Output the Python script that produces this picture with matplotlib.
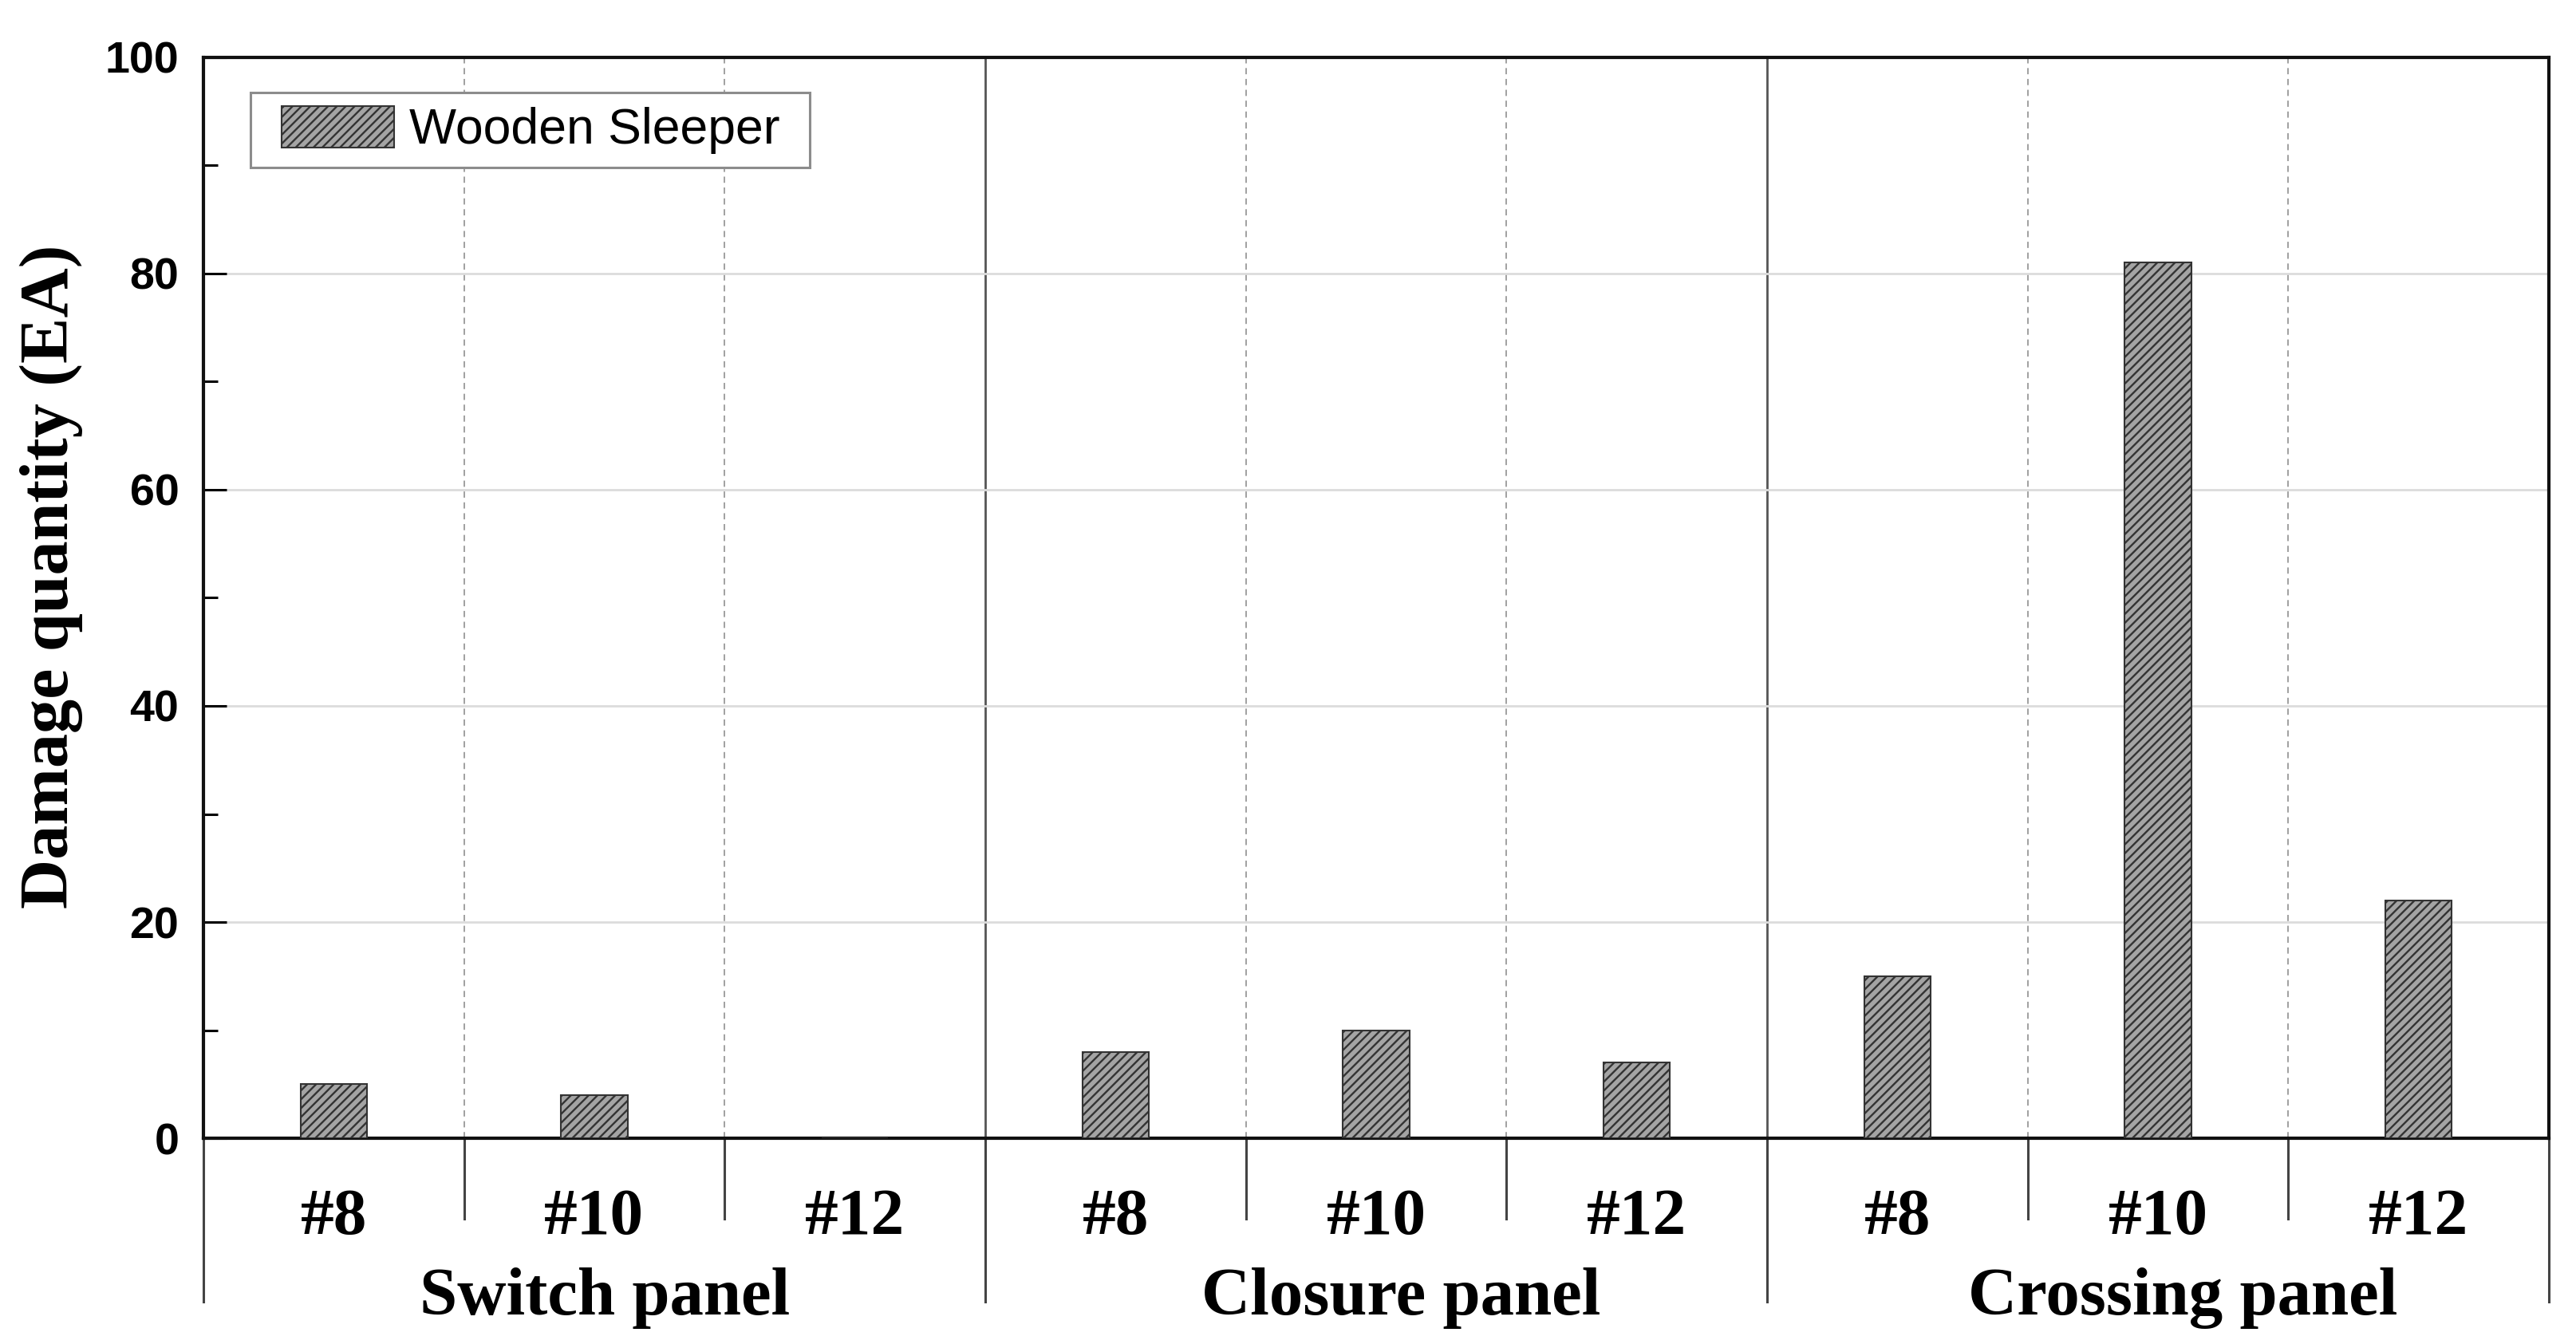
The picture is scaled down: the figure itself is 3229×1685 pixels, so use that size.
#!/usr/bin/env python3
# -*- coding: utf-8 -*-
"""Damage quantity of wooden sleepers per turnout panel and turnout number."""
import numpy as np
import matplotlib
matplotlib.use("Agg")
import matplotlib.pyplot as plt
from matplotlib.patches import Rectangle
from matplotlib.ticker import MultipleLocator
from matplotlib.transforms import blended_transform_factory

panels = ["Switch panel", "Closure panel", "Crossing panel"]
turnouts = ["#8", "#10", "#12"]
wooden_sleeper = [5, 4, 0, 8, 10, 7, 15, 81, 22]

SERIF = ["Liberation Serif", "DejaVu Serif"]
SANS = ["Liberation Sans", "DejaVu Sans"]
plt.rcParams["hatch.linewidth"] = 1.7

fig = plt.figure(figsize=(32.3, 16.85), dpi=100)
ax = fig.add_axes([0.0789, 0.1531, 0.9103, 0.8042])

n = len(panels) * len(turnouts)
x = np.arange(n)
ax.bar(x, wooden_sleeper, width=0.255, color="#a4a4a4", edgecolor="#333333",
       linewidth=1.5, hatch="///", label="Wooden Sleeper", zorder=3)

ax.set_xlim(-0.5, n - 0.5)
ax.set_ylim(0, 100)
ax.yaxis.set_major_locator(MultipleLocator(20))
ax.yaxis.set_minor_locator(MultipleLocator(10))
ax.tick_params(axis="y", which="major", direction="in", length=21, width=2.2,
               pad=22, labelsize=40)
ax.tick_params(axis="y", which="minor", direction="in", length=13, width=2.2)
ax.tick_params(axis="x", which="both", bottom=False, labelbottom=False)
for lab in ax.get_yticklabels():
    lab.set_fontfamily(SANS)
    lab.set_fontweight("bold")

for s in ax.spines.values():
    s.set_linewidth(3)
    s.set_color("#111111")

# grid
ax.grid(axis="y", color="#dcdcdc", linewidth=2, zorder=0)
trans = blended_transform_factory(ax.transData, ax.transAxes)
k = len(turnouts)
for i in range(1, n):
    xb = i - 0.5
    if i % k == 0:
        ax.axvline(xb, color="#555555", linewidth=2, zorder=1)
        ax.plot([xb, xb], [0, -0.1513], color="#444444", linewidth=2.2,
                transform=trans, clip_on=False)
    else:
        ax.axvline(xb, color="#a0a0a0", linewidth=1.4, linestyle=(0, (4, 3)), zorder=1)
        ax.plot([xb, xb], [0, -0.0745], color="#444444", linewidth=2.2,
                transform=trans, clip_on=False)
for xb in (-0.5, n - 0.5):
    ax.plot([xb, xb], [0, -0.1513], color="#444444", linewidth=2.2,
            transform=trans, clip_on=False)

# category labels under the axis
for i in range(n):
    ax.text(x[i], -0.0886, turnouts[i % k], transform=trans, ha="center",
            va="baseline", fontsize=60, fontweight="bold", fontfamily=SERIF)
group_shift = [0.04, 0.095, 0.095]
for g, name in enumerate(panels):
    ax.text(g * k + (k - 1) / 2 + group_shift[g], -0.163, name, transform=trans,
            ha="center", va="baseline", fontsize=61, fontweight="bold",
            fontfamily=SERIF)

fig.text(0.020, 0.571, "Damage quantity (EA)", rotation=90, ha="center",
         va="center", fontsize=62, fontweight="bold", fontfamily=SERIF)

# legend: frame drawn separately so its padding matches the original
ax.add_patch(Rectangle((0.0201, 0.8982), 0.2384, 0.0693, transform=ax.transAxes,
                       facecolor="white", edgecolor="#8c8c8c", linewidth=2.2,
                       zorder=5))
leg = ax.legend(loc="center left", bbox_to_anchor=(0.0333, 0.9328),
                borderaxespad=0, frameon=False, borderpad=0,
                prop={"family": SANS, "size": 45}, handlelength=2.26,
                handleheight=0.91, handletextpad=0.30)
leg.set_zorder(6)

fig.savefig("out.png", dpi=100)
